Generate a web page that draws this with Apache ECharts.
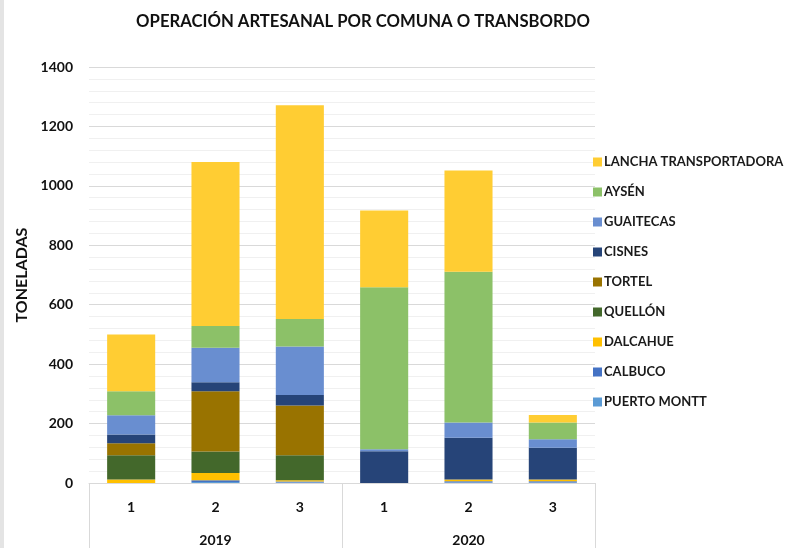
<!DOCTYPE html>
<html>
<head>
<meta charset="utf-8">
<script src="https://cdn.jsdelivr.net/npm/echarts@6/dist/echarts.min.js"></script>
<style>
  html, body { margin: 0; padding: 0; background: #fff; }
  #main { width: 789px; height: 548px; border-left: 4px solid #e4e4e4; box-sizing: border-box; }
</style>
</head>
<body>
<div id="main"></div>
<script>
// categories
const periods = ["1", "2", "3", "1", "2", "3"];
const years = ["2019", "2020"];

// series values (toneladas), bottom to top of each stack
const puertoMontt = [0, 3, 2, 0, 2, 2];
const calbuco = [0, 6, 3, 0, 4, 4];
const dalcahue = [12, 25, 4, 0, 6, 6];
const quellon = [81, 72, 84, 0, 0, 0];
const tortel = [41, 203, 168, 0, 0, 0];
const cisnes = [29, 30, 35, 107, 140, 107];
const guaitecas = [65, 116, 163, 7, 52, 28];
const aysen = [81, 73, 93, 545, 507, 57];
const lancha = [191, 552, 719, 258, 341, 25];

const font = "Lato, 'Liberation Sans', sans-serif";

let chartDom = document.getElementById("main");
let myChart = echarts.init(chartDom);

function bar(name, data, color) {
  return {
    name: name,
    type: "bar",
    stack: "total",
    barWidth: "57%",
    itemStyle: { color: color },
    data: data,
  };
}

let option = {
  animation: false,
  title: {
    text: "OPERACIÓN ARTESANAL POR COMUNA O TRANSBORDO",
    left: 354,
    textAlign: "center",
    top: 8,
    textStyle: { fontFamily: font, fontWeight: "bold", fontSize: 16.7, color: "#111" },
  },
  legend: {
    orient: "vertical",
    left: 584,
    top: 150,
    itemWidth: 9,
    itemHeight: 9,
    itemGap: 16,
    icon: "rect",
    data: ["LANCHA TRANSPORTADORA", "AYSÉN", "GUAITECAS", "CISNES", "TORTEL", "QUELLÓN", "DALCAHUE", "CALBUCO", "PUERTO MONTT"],
    textStyle: { fontFamily: font, fontWeight: "bold", fontSize: 13, lineHeight: 14, color: "#1a1a1a", padding: [0, 0, 0, -3] },
  },
  grid: { left: 85, right: 194, top: 67, bottom: 65 },
  xAxis: [
    {
      type: "category",
      data: periods,
      axisLine: { lineStyle: { color: "#d9d9d9" } },
      axisTick: { show: false },
      axisLabel: { margin: 17, fontFamily: font, fontWeight: "bold", fontSize: 14, color: "#111" },
    },
    {
      type: "category",
      position: "bottom",
      data: years,
      axisLine: { show: false },
      axisTick: { show: true, length: 66, lineStyle: { color: "#d9d9d9" } },
      axisLabel: { margin: 50, fontFamily: font, fontWeight: "bold", fontSize: 14, color: "#111" },
    },
  ],
  yAxis: {
    type: "value",
    min: 0,
    max: 1400,
    interval: 200,
    name: "TONELADAS",
    nameLocation: "middle",
    nameGap: 56,
    nameTextStyle: { fontFamily: font, fontWeight: "bold", fontSize: 16, color: "#111" },
    axisLine: { show: false },
    axisTick: { show: false },
    axisLabel: { margin: 16, fontFamily: font, fontWeight: "bold", fontSize: 14, color: "#111", formatter: (v) => String(v) },
    splitLine: { lineStyle: { color: "#d9d9d9" } },
    minorTick: { show: false, splitNumber: 5 },
    minorSplitLine: { show: true, lineStyle: { color: "#f0f0f0" } },
  },
  series: [
    bar("PUERTO MONTT", puertoMontt, "#5B9BD5"),
    bar("CALBUCO", calbuco, "#4472C4"),
    bar("DALCAHUE", dalcahue, "#FFC000"),
    bar("QUELLÓN", quellon, "#43682B"),
    bar("TORTEL", tortel, "#997300"),
    bar("CISNES", cisnes, "#264478"),
    bar("GUAITECAS", guaitecas, "#698ED0"),
    bar("AYSÉN", aysen, "#8CC168"),
    bar("LANCHA TRANSPORTADORA", lancha, "#FFCD33"),
  ],
};

option && myChart.setOption(option);
</script>
</body>
</html>
